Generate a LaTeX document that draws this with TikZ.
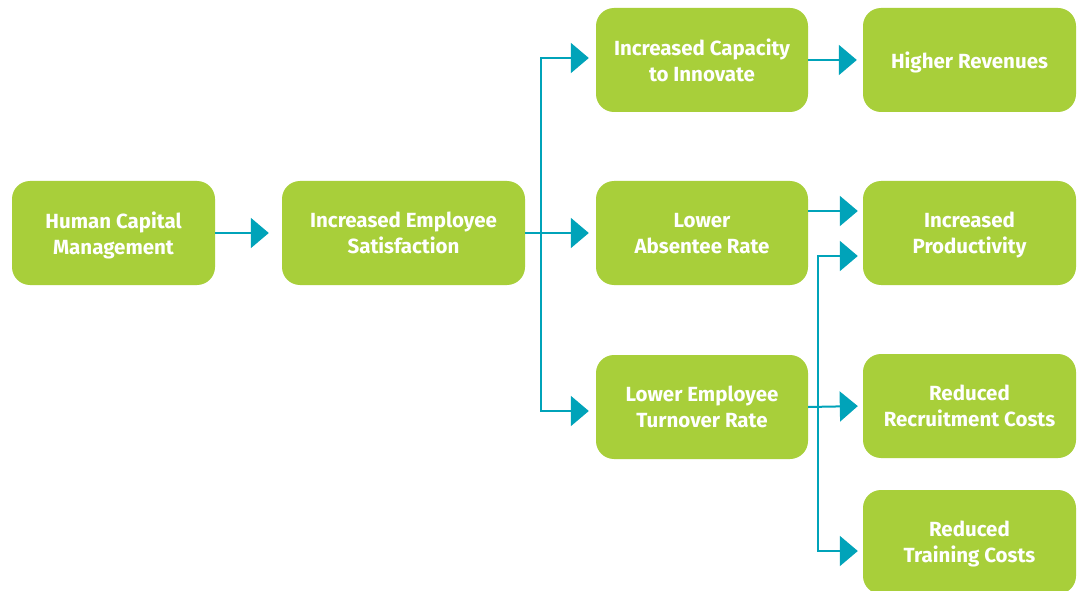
\documentclass[tikz,border=0pt]{standalone}
\usepackage{fontspec}
\setmainfont{Fira Sans}
\usetikzlibrary{arrows.meta}
\definecolor{boxgreen}{HTML}{A8CF3A}
\definecolor{arrteal}{HTML}{00A3B9}
\begin{document}
\begin{tikzpicture}[x=1pt,y=-1pt,
  box/.style={fill=boxgreen, rounded corners=18pt, text=white,
    font=\bfseries\fontsize{20.5}{26}\selectfont, align=center,
    minimum height=104pt, inner sep=0pt, text depth=-6pt},
  conn/.style={draw=arrteal, line width=2pt,
    -{Triangle[length=18pt,width=30pt]}, shorten >=6pt}]
\clip (0,0) rectangle (1077,591);
\useasboundingbox (0,0) rectangle (1077,591);
\fill[white] (0,0) rectangle (1077,591);

\node[box, minimum width=203pt] (hcm) at (113.5,233) {Human Capital\\Management};
\node[box, minimum width=243pt] (ies) at (403.5,233) {Increased Employee\\Satisfaction};
\node[box, minimum width=212pt] (ici) at (702,60) {Increased Capacity\\to Innovate};
\node[box, minimum width=212pt] (lar) at (702,233) {Lower\\Absentee Rate};
\node[box, minimum width=212pt] (letr) at (702,407) {Lower Employee\\Turnover Rate};
\node[box, minimum width=213pt] (hr) at (969.5,60) {Higher Revenues};
\node[box, minimum width=213pt] (ip) at (969.5,233) {Increased\\Productivity};
\node[box, minimum width=213pt] (rrc) at (969.5,406) {Reduced\\Recruitment Costs};
\node[box, minimum width=213pt] (rtc) at (969.5,542) {Reduced\\Training Costs};

\draw[conn, shorten >=13pt] (hcm.east) -- (ies.west);
\draw[conn, shorten >=7pt] (ies.east) -- (lar.west);
\draw[conn, shorten >=7pt] (ies.east) -- ++(16,0) |- ([yshift=2pt]ici.west);
\draw[conn, shorten >=7pt] (ies.east) -- ++(16,0) |- ([yshift=-4pt]letr.west);
\draw[conn] (ici.east) -- (hr.west);
\draw[conn, shorten >=5pt] ([yshift=22pt]lar.east) -- ([yshift=22pt]ip.west);
\draw[conn, shorten >=5pt] (letr.east) -- (rrc.west);
\draw[conn, shorten >=5pt] (letr.east) -- ++(10,0) |- ([yshift=-23pt]ip.west);
\draw[conn, shorten >=5pt] (letr.east) -- ++(10,0) |- ([yshift=-9pt]rtc.west);
\end{tikzpicture}
\end{document}
